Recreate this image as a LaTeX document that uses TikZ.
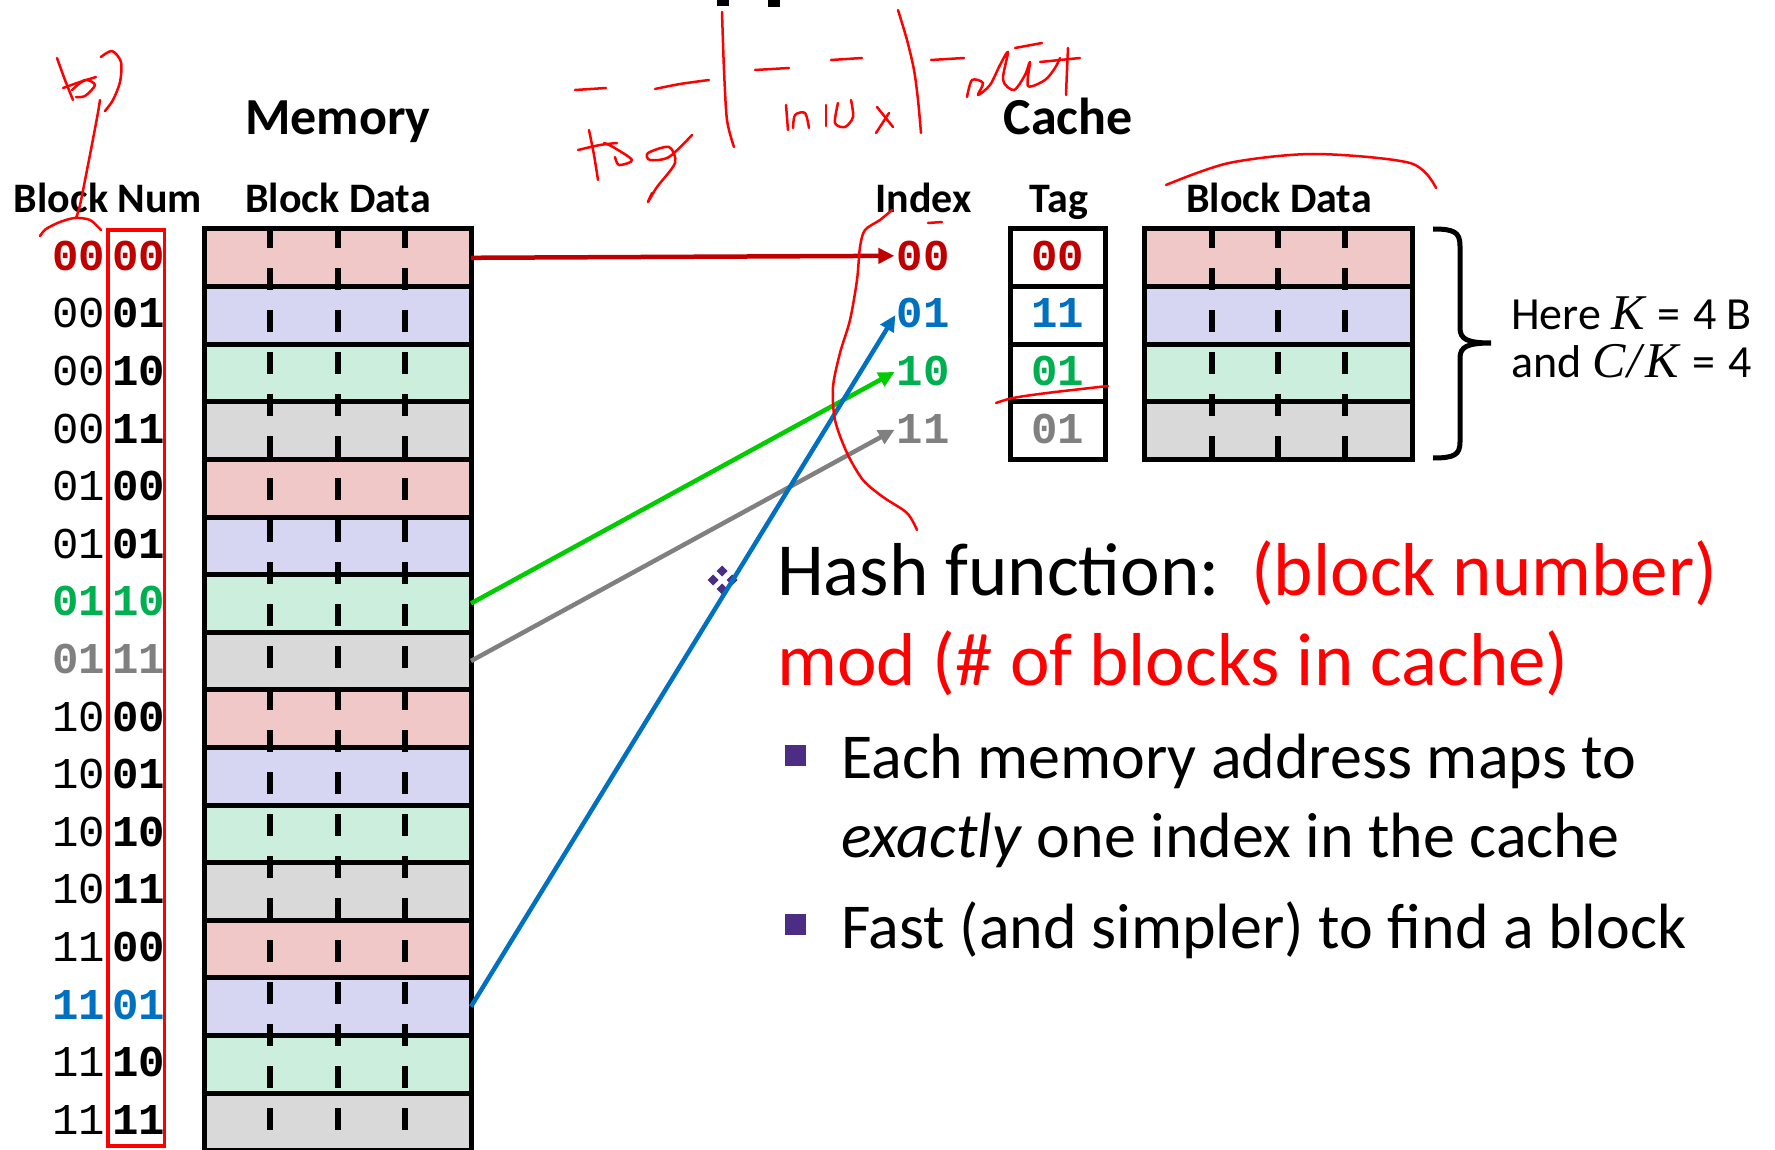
\documentclass[tikz,border=0pt]{standalone}
\usepackage{fontspec}
\setmainfont{Carlito}
\newfontfamily\monof{Liberation Mono}
\newfontfamily\serifk{Liberation Serif}
\usetikzlibrary{arrows.meta}
\definecolor{dred}{HTML}{C00000}
\definecolor{mblue}{HTML}{0070C0}
\definecolor{mgreen}{HTML}{00B050}
\definecolor{agreen}{HTML}{00CC00}
\definecolor{mgray}{HTML}{808080}
\definecolor{fpink}{HTML}{F0C8C8}
\definecolor{fblue}{HTML}{D6D6F2}
\definecolor{fgreen}{HTML}{CCEEDD}
\definecolor{fgray}{HTML}{D9D9D9}
\definecolor{bpurple}{HTML}{4B2E83}
\definecolor{pen}{HTML}{FF0000}
\newcommand{\mk}[1]{{\fontsize{50}{50}\selectfont\serifk\itshape #1}}
\tikzset{
 memrow/.style={draw=black, line width=5pt, minimum width=267pt, minimum height=57.6pt, inner sep=0pt, outer sep=0pt},
 tagcell/.style={draw=black, fill=white, line width=5pt, minimum width=95pt, minimum height=57.6pt, inner sep=0pt, outer sep=0pt},
 hdrtext/.style={font=\fontsize{42}{50}\selectfont\bfseries, anchor=base, inner sep=0pt},
 ttltext/.style={font=\fontsize{52}{60}\selectfont\bfseries, anchor=base, inner sep=0pt},
 numreg/.style={font=\fontsize{44}{50}\selectfont\monof, anchor=base, inner sep=0pt},
 numbld/.style={font=\fontsize{44}{50}\selectfont\monof\bfseries, anchor=base, inner sep=0pt},
 dashline/.style={line width=6pt, dash pattern=on 22pt off 20pt},
 maparrow/.style={line width=4.5pt, shorten >=2pt, -{Triangle[length=16pt,width=15pt]}},
 handpen/.style={draw=pen, line width=2.5pt, line cap=round, line join=round},
 bigtext/.style={font=\fontsize{75}{80}\selectfont, anchor=base west, inner sep=0pt},
 bultext/.style={font=\fontsize{64}{70}\selectfont, anchor=base west, inner sep=0pt},
 bulsq/.style={fill=bpurple, minimum size=21pt, inner sep=0pt, outer sep=0pt},
 notetext/.style={font=\fontsize{46}{47}\selectfont, anchor=base west, inner sep=0pt},
}
\begin{document}
\begin{tikzpicture}[x=1pt,y=-1pt]
\useasboundingbox (0,0) rectangle (1775,1150);
\begin{scope}
\clip (0,0) rectangle (1775,1150);
% title remnants
\fill (717,0) rectangle (729,6);
\fill (768,0) rectangle (780,7);
% headers
\node[ttltext] (memt) at (338,135) {Memory};
\node[ttltext] (cachet) at (1068,135) {Cache};
\node[hdrtext] (hbn) at (108,213) {Block Num};
\node[hdrtext] (hbd) at (338,213) {Block Data};
\node[hdrtext] (hidx) at (923.5,213) {Index};
\node[hdrtext] (htag) at (1059,213) {Tag};
\node[hdrtext] (hcbd) at (1279,213) {Block Data};
% memory rows
\foreach \k/\f in {1/fpink,2/fblue,3/fgreen,4/fgray,5/fpink,6/fblue,7/fgreen,8/fgray,9/fpink,10/fblue,11/fgreen,12/fgray,13/fpink,14/fblue,15/fgreen,16/fgray}{
  \node[memrow, fill=\f] (m\k) at (337.5,{229+(\k-0.5)*57.6}) {};
}
\foreach \x in {270,338,405}{
  \draw[dashline] (\x,226) -- (\x,1152);
}
% block numbers
\node[draw=red, line width=3.5pt, minimum width=56.5pt, minimum height=916pt, inner sep=0pt] (redbox) at (136,687.9) {};
\foreach \k/\hi/\lo/\col/\hs in {1/00/00/dred/numbld,2/00/01/black/numreg,3/00/10/black/numreg,4/00/11/black/numreg,
  5/01/00/black/numreg,6/01/01/black/numreg,7/01/10/mgreen/numbld,8/01/11/mgray/numbld,
  9/10/00/black/numreg,10/10/01/black/numreg,11/10/10/black/numreg,12/10/11/black/numreg,
  13/11/00/black/numreg,14/11/01/mblue/numbld,15/11/10/black/numreg,16/11/11/black/numreg}{
  \node[\hs, text=\col] (bh\k) at (78.5,{229+(\k-0.5)*57.6+12.5}) {\hi};
  \node[numbld, text=\col] (bl\k) at (138.5,{229+(\k-0.5)*57.6+12.5}) {\lo};
}
% cache
\foreach \k/\f/\ix/\tg/\col in {1/fpink/00/00/dred,2/fblue/01/11/mblue,3/fgreen/10/01/mgreen,4/fgray/11/01/mgray}{
  \node[memrow, fill=\f, minimum width=268pt] (c\k) at (1278.5,{229+(\k-0.5)*57.6}) {};
  \node[tagcell] (t\k) at (1058,{229+(\k-0.5)*57.6}) {};
  \node[numbld, text=\col] (tg\k) at (1057.5,{229+(\k-0.5)*57.6+12.5}) {\tg};
  \node[numbld, text=\col] (i\k) at (923,{229+(\k-0.5)*57.6+12.5}) {\ix};
}
\foreach \x in {1212,1278,1345}{
  \draw[dashline] (\x,226) -- (\x,458);
}
% brace
\draw[line width=5pt] (1433,229) .. controls (1454,229) and (1460,232) .. (1460,246) -- (1460,328)
   .. controls (1460,339) and (1467,343) .. (1491,343)
   .. controls (1467,343) and (1460,347) .. (1460,358) -- (1460,442)
   .. controls (1460,455) and (1454,458) .. (1433,458);
\node[notetext] (note1) at (1511,330) {Here\hspace{10pt}\mk{K}\hspace{13pt}=\hspace{13pt}4\hspace{10pt}B};
\node[notetext] (note2) at (1511,377) {and\hspace{11pt}\mk{C}\hspace{2pt}\mk{/}\hspace{4pt}\mk{K}\hspace{13pt}=\hspace{13pt}4};
% ornament
\foreach \dx/\dy in {0/-9,-9/0,0/9,10/0}{
  \fill[bpurple] (722+\dx,580+\dy-5.5) -- ++(5.5,5.5) -- ++(-5.5,5.5) -- ++(-5.5,-5.5) -- cycle;
}
% arrows
\draw[maparrow, dred] (m1.east) -- (i1.west);
\draw[maparrow, agreen] (m7.east) -- (i3.west);
\draw[maparrow, mgray] (m8.east) -- (i4.west);
\draw[maparrow, mblue] (m14.east) -- (i2.west);
% hash text
\node[bigtext] (hash1) at (777,595) {Hash function:};
\node[bigtext, text=red] (hash1b) at (1251,595) {(block number)};
\node[bigtext, text=red] (hash2) at (777,685) {mod (\# of blocks in cache)};
\node[bulsq] (sq1) at (795.5,755.5) {};
\node[bultext] (bt1) at (841,778) {Each memory address maps to};
\node[bultext] (bt2) at (841,857) {\textit{exactly} one index in the cache};
\node[bulsq] (sq2) at (795.5,924.5) {};
\node[bultext] (bt3) at (841,948) {Fast (and simpler) to find a block};
% handwriting
\draw[handpen] plot[smooth] coordinates {(57,58) (65,80) (73,100)};
\draw[handpen] plot[smooth] coordinates {(63,88) (80,82) (96,77)};
\draw[handpen] plot[smooth] coordinates {(72,90) (85,80) (95,85) (85,96) (76,97)};
\draw[handpen] plot[smooth] coordinates {(101,57) (112,51) (121,62) (120,82) (113,100) (105,111)};
\draw[handpen] plot[smooth] coordinates {(100,100) (97,118) (88,165) (80,205) (76,218)};
\draw[handpen] plot[smooth] coordinates {(40,236) (46,229) (60,222) (75,218) (90,220) (101,230)};
\draw[handpen] plot[smooth] coordinates {(575,90) (606,88)};
\draw[handpen] plot[smooth] coordinates {(655,89) (680,84) (709,80)};
\draw[handpen] plot[smooth] coordinates {(722,12) (724,70) (727,120) (734,147)};
\draw[handpen] plot[smooth] coordinates {(755,70) (789,68)};
\draw[handpen] plot[smooth] coordinates {(831,60) (862,58)};
\draw[handpen] plot[smooth] coordinates {(898,10) (907,40) (914,70) (918,100) (921,133)};
\draw[handpen] plot[smooth] coordinates {(931,60) (964,58)};
\draw[handpen] plot[smooth] coordinates {(786,105) (788,130)};
\draw[handpen] plot[smooth] coordinates {(793,128) (795,115) (805,113) (809,128)};
\draw[handpen] plot[smooth] coordinates {(826,105) (826,126)};
\draw[handpen] plot[smooth] coordinates {(838,103) (835,123) (845,127) (853,117) (851,100)};
\draw[handpen] plot[smooth] coordinates {(877,107) (893,127)};
\draw[handpen] plot[smooth] coordinates {(876,133) (889,113)};
\draw[handpen] plot[smooth] coordinates {(967,97) (972,80) (983,83) (978,95) (990,85) (1000,65) (1008,52) (1003,80) (1014,90) (1025,75) (1030,62) (1028,86) (1045,80) (1055,68) (1060,58)};
\draw[handpen] plot[smooth] coordinates {(1068,48) (1067,70) (1066,95)};
\draw[handpen] plot[smooth] coordinates {(1040,62) (1080,58)};
\draw[handpen] plot[smooth] coordinates {(1015,48) (1042,43)};
\draw[handpen] plot[smooth] coordinates {(589,130) (594,155) (598,180)};
\draw[handpen] plot[smooth] coordinates {(578,150) (600,145) (617,143)};
\draw[handpen] plot[smooth] coordinates {(604,143) (613,147) (632,160) (619,165) (615,157)};
\draw[handpen] plot[smooth] coordinates {(692,135) (669,157) (650,160) (648,153) (669,147) (675,163) (657,187) (648,202) (652,193)};
\draw[handpen] plot[smooth] coordinates {(1166,185) (1229,163) (1314,154) (1410,163) (1436,188)};
\draw[handpen] plot[smooth] coordinates {(892,210) (880,220) (865,230) (860,247) (857,280) (850,320) (840,353) (833,387) (835,420) (847,453) (863,480) (883,497) (907,513) (917,530)};
\draw[handpen] (928,223) -- (942,222);
\draw[handpen] plot[smooth] coordinates {(996,403) (1013,398) (1047,393) (1108,386)};
\end{scope}
\end{tikzpicture}
\end{document}
